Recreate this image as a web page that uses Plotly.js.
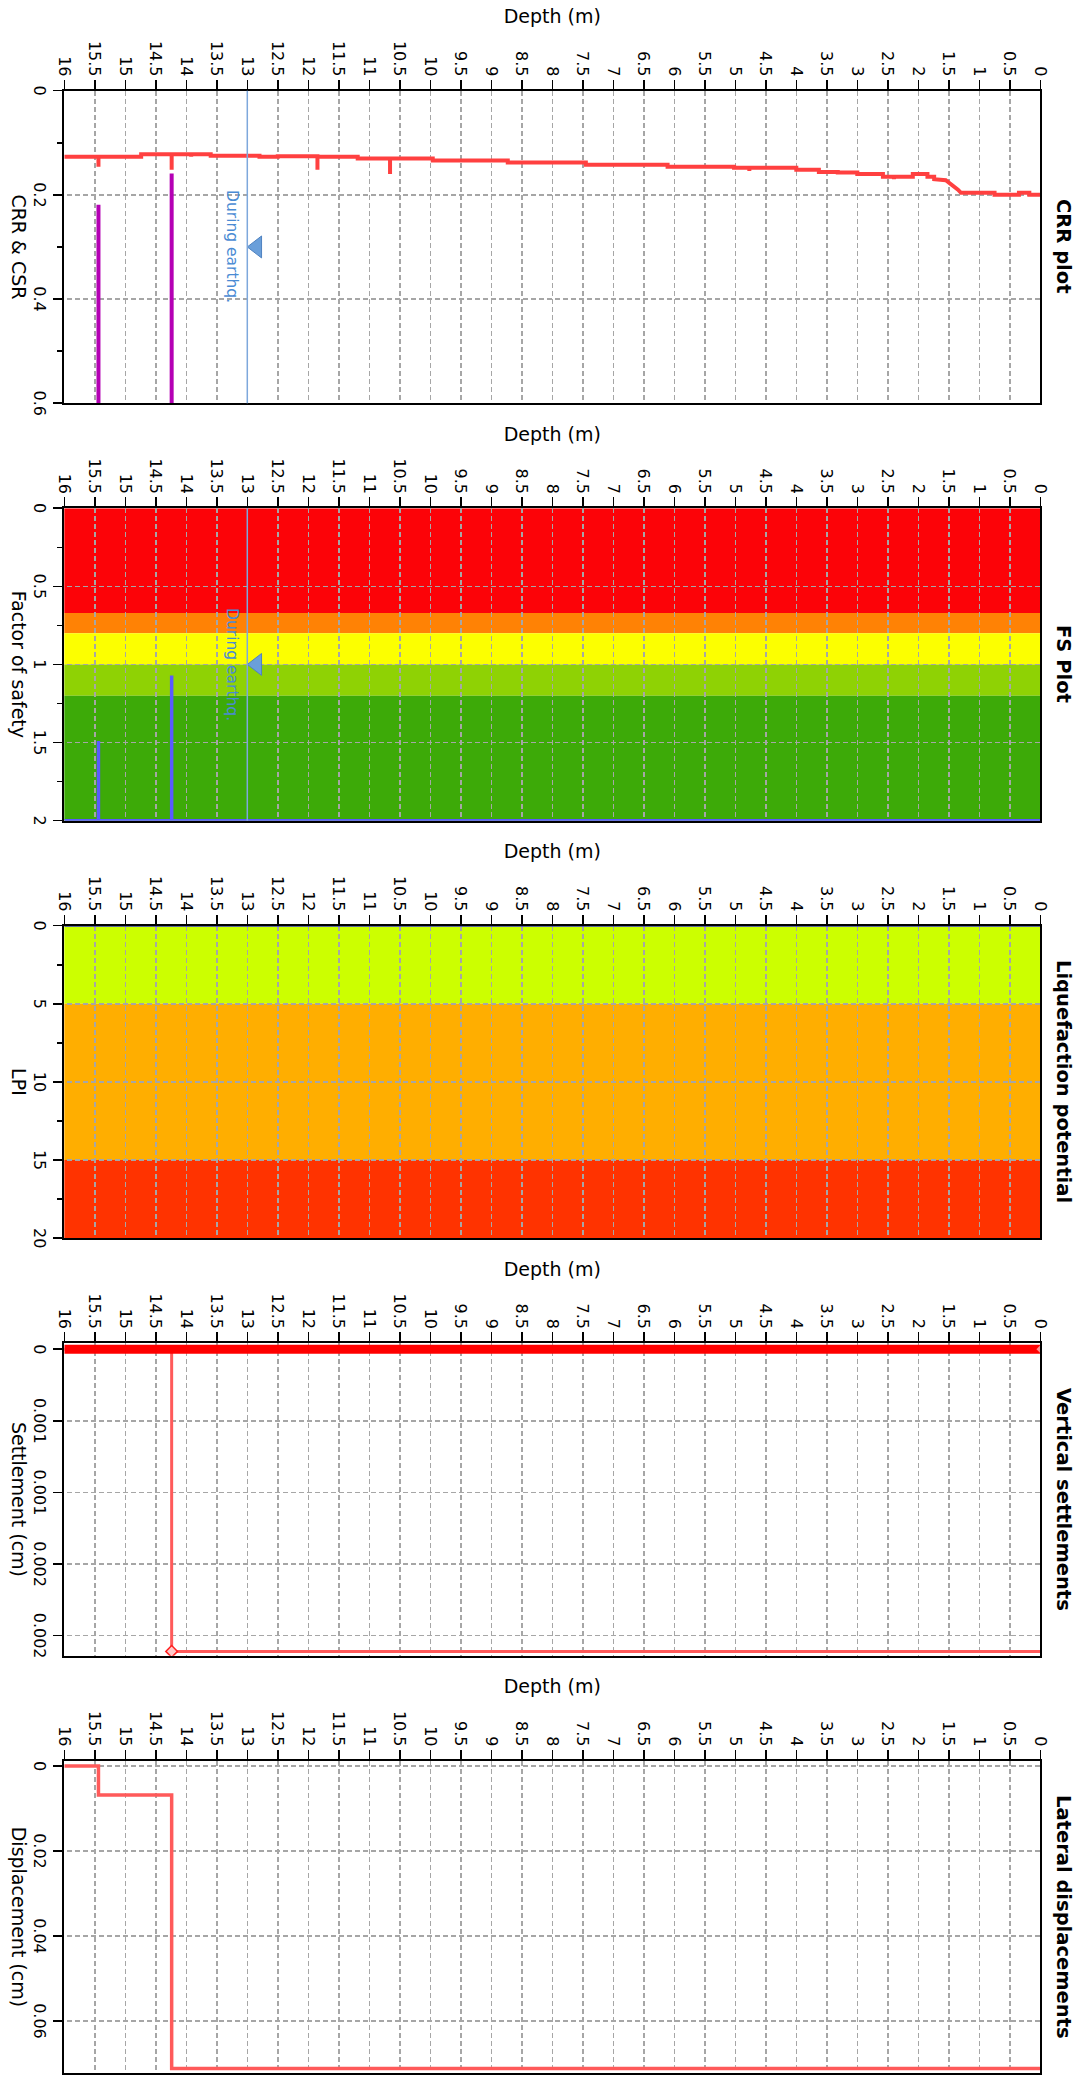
<!DOCTYPE html>
<html><head><meta charset="utf-8">
<script src="https://cdn.plot.ly/plotly-3.0.1.min.js"></script>
<style>
html,body{margin:0;padding:0;overflow:hidden;background:#fff;width:1076px;height:2083px;}
#wrap{position:absolute;left:0;top:0;width:2083px;height:1076px;transform-origin:0 0;transform:translate(1076px,0) rotate(90deg);}
</style></head><body><div id="wrap"></div>
<script>
// ---------------- DATA ----------------
// CRR profile (depth in m, CRR)
const crrDepth = [0,0.18,0.18,0.35,0.35,0.75,0.75,1.30,1.35,1.45,1.55,1.74,1.74,1.85,1.85,2.09,2.09,2.40,2.40,2.40,2.58,2.58,3.00,3.00,3.32,3.32,3.63,3.63,3.63,4.00,4.00,4.77,4.77,4.77,5.02,5.02,5.35,5.35,5.35,6.11,6.11,7.45,7.45,8.73,8.73,9.96,9.96,10.66,10.66,10.66,11.19,11.19,11.72,11.72,11.72,11.85,11.85,11.85,12.50,12.50,12.80,12.80,13.60,13.60,13.92,13.92,13.92,14.00,14.00,14.24,14.24,14.24,14.74,14.74,15.44,15.44,15.44,16.00];
const crrValue = [0.200,0.200,0.196,0.196,0.200,0.200,0.196,0.196,0.190,0.180,0.172,0.170,0.165,0.165,0.160,0.160,0.165,0.165,0.170,0.165,0.165,0.160,0.160,0.157,0.157,0.156,0.156,0.160,0.152,0.152,0.148,0.148,0.154,0.148,0.148,0.146,0.146,0.150,0.146,0.146,0.142,0.142,0.138,0.138,0.134,0.134,0.130,0.130,0.160,0.130,0.130,0.127,0.127,0.130,0.127,0.127,0.152,0.126,0.126,0.127,0.127,0.125,0.125,0.122,0.122,0.127,0.122,0.122,0.122,0.122,0.152,0.122,0.122,0.127,0.127,0.146,0.127,0.127];
// CSR (only visible where it drops below 0.6)
const csrDepth = [15.44,15.44,null,14.24,14.24];
const csrValue = [0.219,0.70,null,0.159,0.70];
// Factor of safety
const fsDepth = [0,14.24,14.24,14.24,15.44,15.44,15.44,16];
const fsValue = [2,2,1.07,2,2,1.49,2,2];
const fsBreaks = [0,0.67,0.80,1.00,1.20,2.00];
const fsColors = ['#FC0308','#FF8205','#FCFF00','#8FD204','#3DAA08'];
// LPI
const lpiDepth = [0,16];
const lpiValue = [0,0];
const lpiBreaks = [0,5,15,20];
const lpiColors = ['#CCFF00','#FFAE00','#FF3300'];
// Settlements
const layerSettleDepth = [0,16];
const layerSettle = [0,0];
const cumSettleDepth = [0,14.24,14.24,16];
const cumSettle = [0.00211,0.00211,0,0];
const settleTickVals = [0,0.0005,0.001,0.0015,0.002];
const settleTickText = ['0','0.001','0.001','0.002','0.002'];
// Lateral displacements
const latDepth = [0,14.24,14.24,15.44,15.44,16];
const latDisp = [0.0712,0.0712,0.0068,0.0068,0,0];
// Ground water table during earthquake
const gwtDepth = 13;
const gwtLabel = 'During earthq.';
const panelTitles = ['CRR plot','FS Plot','Liquefaction potential','Vertical settlements','Lateral displacements'];
const xTitles = ['CRR & CSR','Factor of safety','LPI','Settlement (cm)','Displacement (cm)'];

// ---------------- LAYOUT ----------------
const W = 2083, H = 1076;
const panelLeft = 90.7, panelWidth = 312.5, panelStep = 417.5;
const plotTop = 35.7, plotBottom = 1011.7;
const FONT = 'DejaVu Sans';
const pxPerDepth = (plotBottom - plotTop) / 16;
const xdom = k => [(panelLeft + k*panelStep)/W, (panelLeft + k*panelStep + panelWidth)/W];
const ydom = [(H - plotBottom)/H, (H - plotTop)/H];
const sfx = k => (k ? String(k+1) : '');
const gridStyle = {showgrid:true, gridcolor:'#a6a6a6', gridwidth:1.5, griddash:'5px,3px'};
const lineStyle = {showline:true, mirror:true, linecolor:'#000', linewidth:2, zeroline:false};
const tickFont = {family:FONT, size:16, color:'#000'};

const layout = {
  width: W, height: H, margin:{l:0,r:0,t:0,b:0},
  paper_bgcolor:'#fff', plot_bgcolor:'#fff', showlegend:false,
  font:{family:FONT, color:'#000'},
  shapes: [], annotations: []
};

const xRanges = [[0,0.6],[0,2],[0,20],[-0.000042,0.00214],[-0.00125,0.0723]];
const xDticks = [0.2,0.5,5,null,0.02];
const xMinor = [0.1,0.25,2.5,null,null];

for (let k=0;k<5;k++){
  const xa = Object.assign({
    domain: xdom(k), anchor:'y'+sfx(k), range:xRanges[k], autorange:false,
    ticks:'outside', ticklen:9, tickwidth:1.5, tickcolor:'#000', tickfont:tickFont,
    title:{text:xTitles[k], font:{family:FONT,size:19,color:'#000'}, standoff:6},
    automargin:false
  }, gridStyle, lineStyle);
  if (xDticks[k] !== null){ xa.tick0 = 0; xa.dtick = xDticks[k]; }
  else { xa.tickmode='array'; xa.tickvals = settleTickVals; xa.ticktext = settleTickText; }
  if (xMinor[k] !== null){ xa.minor = {dtick:xMinor[k], tick0:0, ticks:'outside', ticklen:5, tickwidth:1.5, tickcolor:'#000', showgrid:false}; }
  layout['xaxis'+sfx(k)] = xa;
  layout['yaxis'+sfx(k)] = Object.assign({
    domain: ydom, anchor:'x'+sfx(k), range:[16,0], autorange:false, tick0:0, dtick:0.5,
    ticks:'outside', ticklen:9, tickwidth:1.5, tickcolor:'#000', tickfont:tickFont,
    title:{text:'Depth (m)', font:{family:FONT,size:19,color:'#000'}, standoff:12},
    automargin:false
  }, gridStyle, lineStyle);
  const d = xdom(k);
  layout.annotations.push({
    xref:'paper', yref:'paper', x:(d[0]+d[1])/2, y:1 - 12/H, xanchor:'center', yanchor:'middle',
    text:panelTitles[k], showarrow:false, font:{family:FONT, size:19.5, weight:'bold', color:'#000'}
  });
}

// FS bands
for (let i=0;i<fsColors.length;i++){
  layout.shapes.push({type:'rect', xref:'x2', yref:'y2 domain', x0:fsBreaks[i], x1:fsBreaks[i+1], y0:0, y1:1,
    fillcolor:fsColors[i], line:{width:0}, layer:'below'});
}
// LPI bands
for (let i=0;i<lpiColors.length;i++){
  layout.shapes.push({type:'rect', xref:'x3', yref:'y3 domain', x0:lpiBreaks[i], x1:lpiBreaks[i+1], y0:0, y1:1,
    fillcolor:lpiColors[i], line:{width:0}, layer:'below'});
}
// GWT lines + labels (panels 1 and 2)
const gwtColor = '#7EA8DC';
const gwtMarkX = [0.3, 1.0];
const triSize = 19;
for (let k=0;k<2;k++){
  layout.shapes.push({type:'line', xref:'x'+sfx(k)+' domain', yref:'y'+sfx(k), x0:0, x1:1, y0:gwtDepth, y1:gwtDepth,
    line:{color:gwtColor, width:1.5}, layer:'above'});
  layout.annotations.push({xref:'x'+sfx(k), yref:'y'+sfx(k), x:gwtMarkX[k], y:gwtDepth, xanchor:'center', yanchor:'top',
    yshift:-4, text:gwtLabel, showarrow:false, font:{family:FONT, size:15.5, color:'#4A8BD4'}});
}

const traces = [];
// Panel 1
traces.push({x:csrValue, y:csrDepth, xaxis:'x', yaxis:'y', mode:'lines', line:{color:'#B400B4', width:4}, connectgaps:false, hoverinfo:'skip'});
traces.push({x:crrValue, y:crrDepth, xaxis:'x', yaxis:'y', mode:'lines', line:{color:'#FF4040', width:4}, hoverinfo:'skip'});
// Panel 2
traces.push({x:fsValue, y:fsDepth, xaxis:'x2', yaxis:'y2', mode:'lines', line:{color:'#5A5AFF', width:3.5}, hoverinfo:'skip'});
// Panel 3
traces.push({x:lpiValue, y:lpiDepth, xaxis:'x3', yaxis:'y3', mode:'lines', line:{color:'#3A3AC8', width:2}, hoverinfo:'skip'});
// Panel 4
traces.push({x:cumSettle, y:cumSettleDepth, xaxis:'x4', yaxis:'y4', mode:'lines', line:{color:'#FF5A5A', width:3}, hoverinfo:'skip'});
traces.push({x:layerSettle, y:layerSettleDepth, xaxis:'x4', yaxis:'y4', mode:'lines', line:{color:'#FF0000', width:9}, hoverinfo:'skip'});
traces.push({x:[cumSettle[1]], y:[cumSettleDepth[1]], xaxis:'x4', yaxis:'y4', mode:'markers',
  marker:{symbol:'diamond', size:9, color:'#FFC8C8', line:{color:'#FF2020', width:1.5}}, hoverinfo:'skip'});
traces.push({x:[layerSettle[0]], y:[layerSettleDepth[0]], xaxis:'x4', yaxis:'y4', mode:'markers',
  marker:{symbol:'diamond', size:6, color:'#FF9090', line:{width:0}}, hoverinfo:'skip'});
// Panel 5
traces.push({x:latDisp, y:latDepth, xaxis:'x5', yaxis:'y5', mode:'lines', line:{color:'#FF5A5A', width:3.5}, hoverinfo:'skip'});
// GWT markers
for (let k=0;k<2;k++){
  traces.push({x:[gwtMarkX[k]], y:[gwtDepth - (triSize/2)/pxPerDepth], xaxis:'x'+sfx(k), yaxis:'y'+sfx(k), mode:'markers',
    marker:{symbol:'triangle-down', size:triSize, color:'#6A9FDA', line:{color:'#4F82C0', width:1}}, hoverinfo:'skip', cliponaxis:false});
}

Plotly.newPlot('wrap', traces, layout, {staticPlot:true, displayModeBar:false});
</script></body></html>
